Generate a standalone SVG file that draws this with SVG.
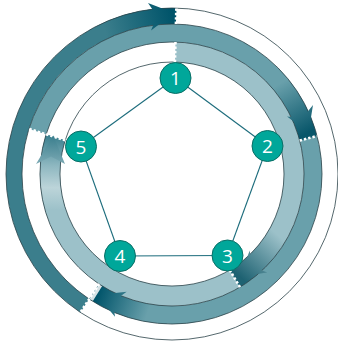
<svg xmlns="http://www.w3.org/2000/svg" width="338" height="347" viewBox="0 0 338 347">
<defs>
<style>
.ring{fill:none;stroke:#2a4148;stroke-width:0.8}
.dot{stroke:#ffffff;stroke-width:2.6;stroke-dasharray:2.4 2;fill:none}
.edge{stroke:#1c6c7c;stroke-width:1.1}
.node circle{fill:#00a79a;stroke:#0b6e66;stroke-width:1}
.node text{fill:#ffffff;font-family:"Open Sans","Noto Sans",sans-serif;font-size:19px;text-anchor:middle}
</style>
<linearGradient id="gT" gradientUnits="userSpaceOnUse" x1="105.2" y1="30.8" x2="172" y2="14"><stop offset="0" stop-color="#3b7e8c"/><stop offset="1" stop-color="#00546a"/></linearGradient>
<linearGradient id="gR" gradientUnits="userSpaceOnUse" x1="280" y1="83.4" x2="308" y2="132.5"><stop offset="0" stop-color="#69a0ab"/><stop offset="1" stop-color="#08566a"/></linearGradient>
<linearGradient id="gN3" gradientUnits="userSpaceOnUse" x1="277.7" y1="235" x2="239.9" y2="276.6"><stop offset="0" stop-color="#9cc1c9"/><stop offset="1" stop-color="#1e6272"/></linearGradient>
<linearGradient id="gBL" gradientUnits="userSpaceOnUse" x1="147.5" y1="312.9" x2="97" y2="295"><stop offset="0" stop-color="#69a0ab"/><stop offset="1" stop-color="#00546a"/></linearGradient>
<linearGradient id="gL" gradientUnits="userSpaceOnUse" x1="52" y1="210" x2="53.3" y2="135.5"><stop offset="0" stop-color="#9cc1c9"/><stop offset="0.3" stop-color="#bcd4d9"/><stop offset="0.6" stop-color="#8db7c0"/><stop offset="1" stop-color="#3a7f8e"/></linearGradient>
<linearGradient id="gLa" gradientUnits="userSpaceOnUse" x1="52" y1="166" x2="53.3" y2="136"><stop offset="0" stop-color="#80acb6"/><stop offset="1" stop-color="#3a7f8e"/></linearGradient>
</defs>
<g id="bands">
<path d="M80.4,312.4 A166,166 0 0 1 176.35,8.06 L175.93,24.05 A150,150 0 0 0 89.2,299.1 Z" fill="#3b7e8c"/>
<path d="M28.9,128.9 A150,150 0 1 1 89.2,299.1 L99.15,284.07 A132,132 0 1 0 46.1,134.3 Z" fill="#69a0ab"/>
<path d="M175.46,42.04 A132,132 0 1 1 46.1,134.3 L65.2,140.3 A112,112 0 1 0 174.93,62.04 Z" fill="#9cc1c9"/>
<path d="M89,30.24 A166,166 0 0 1 176.35,8.06 L175.93,24.05 A150,150 0 0 0 97,44.1 Z" fill="url(#gT)"/>
<path d="M278.07,67.93 A150,150 0 0 1 317.1,135.93 L299.68,140.5 A132,132 0 0 0 265.34,80.66 Z" fill="url(#gR)"/>
<path d="M291.6,229.8 A132,132 0 0 1 240,287.2 L229.7,270 A112,112 0 0 0 273.5,221.3 Z" fill="url(#gN3)"/>
<path d="M166.76,323.9 A150,150 0 0 1 89.2,299.1 L99.15,284.07 A132,132 0 0 0 167.39,305.92 Z" fill="url(#gBL)"/>
<path d="M92.7,301.3 A150,150 0 0 1 89.2,299.1 L99.15,284.07 A132,132 0 0 0 102.2,286.1 Z" fill="#d6e2e5"/>
<path d="M46.45,214.8 A132,132 0 0 1 46.1,134.3 L65.2,140.3 A112,112 0 0 0 65.48,208.6 Z" fill="url(#gL)"/>
</g>
<g id="rings">
<circle class="ring" cx="172" cy="174" r="112"/>
<circle class="ring" cx="172" cy="174" r="132"/>
<circle class="ring" cx="172" cy="174" r="150"/>
<circle class="ring" cx="172" cy="174" r="166" stroke="#4a4f52" stroke-width="0.7"/>
</g>
<g id="dots">
<line class="dot" x1="175.93" y1="24.05" x2="176.35" y2="8.06"/>
<line class="dot" x1="174.93" y1="62.04" x2="175.46" y2="42.04"/>
<line class="dot" x1="299.68" y1="140.5" x2="317.1" y2="135.93"/>
<line class="dot" x1="229.7" y1="270" x2="240" y2="287.2"/>
<line class="dot" x1="99.15" y1="284.07" x2="80.4" y2="312.4"/>
<line class="dot" x1="65.2" y1="140.3" x2="28.9" y2="128.9"/>
</g>
<g id="arrowheads">
<polygon points="174,13 148,3 157,16 151,30.5" fill="url(#gT)"/>
<polygon points="308.5,132.5 313,105 302.5,118 287,116.5" fill="url(#gR)"/>
<polygon points="239.9,276.6 267.3,272.4 252.3,266.5 249.7,250.6" fill="url(#gN3)"/>
<polygon points="96.7,295 126.7,291.7 113,301.5 115,316.7" fill="url(#gBL)"/>
<polygon points="53.3,135.5 36,164 51,156.5 65,164" fill="url(#gLa)"/>
</g>
<g id="connectors">
<line class="edge" x1="175.5" y1="78" x2="267.5" y2="146"/>
<line class="edge" x1="267.5" y1="146" x2="227.5" y2="255.5"/>
<line class="edge" x1="227.5" y1="255.5" x2="120" y2="256"/>
<line class="edge" x1="120" y1="256" x2="81" y2="146.5"/>
<line class="edge" x1="81" y1="146.5" x2="175.5" y2="78"/>
</g>
<g id="node1" class="node"><circle cx="175.5" cy="78" r="15.5"/><text x="175.5" y="85">1</text></g>
<g id="node2" class="node"><circle cx="267.5" cy="146" r="15.5"/><text x="267.5" y="153">2</text></g>
<g id="node3" class="node"><circle cx="227.5" cy="255.5" r="15.5"/><text x="227.5" y="262.5">3</text></g>
<g id="node4" class="node"><circle cx="120" cy="256" r="15.5"/><text x="120" y="263">4</text></g>
<g id="node5" class="node"><circle cx="81" cy="146.5" r="15.5"/><text x="81" y="153.5">5</text></g>
</svg>
